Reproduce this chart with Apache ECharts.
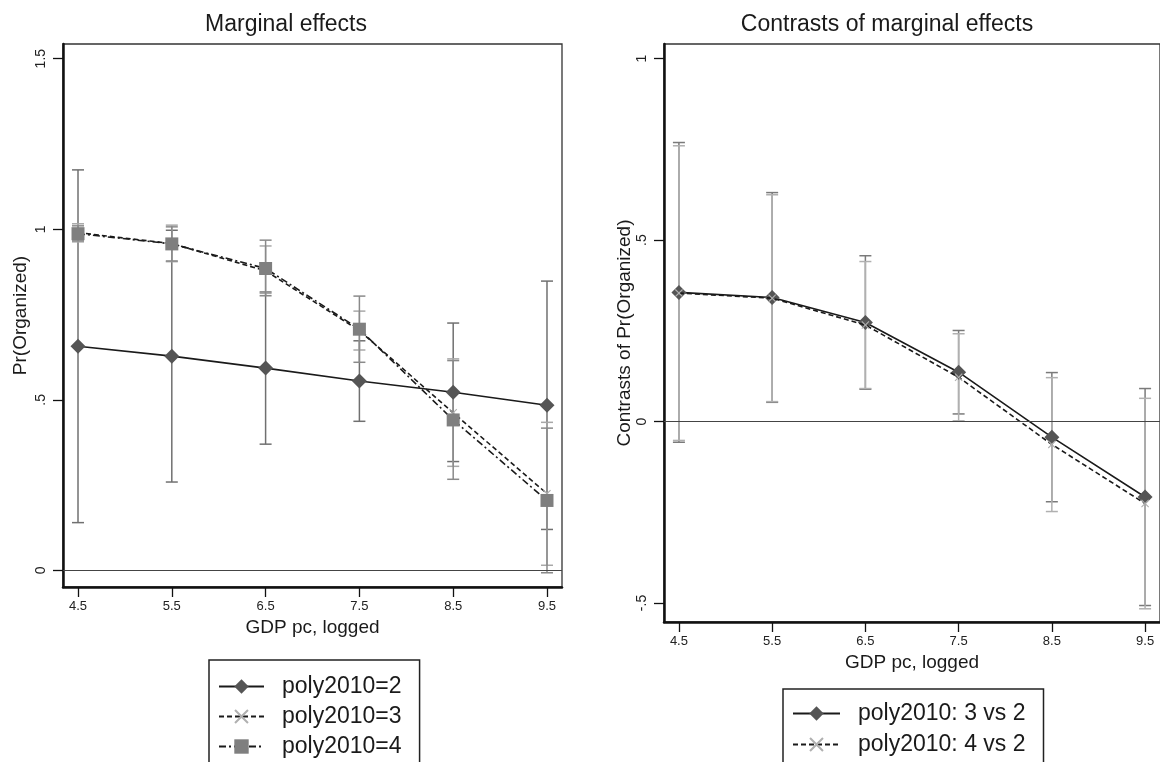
<!DOCTYPE html>
<html>
<head>
<meta charset="utf-8">
<script src="https://cdn.jsdelivr.net/npm/echarts@6/dist/echarts.min.js"></script>
<style>
html,body{margin:0;padding:0;background:#fff;}
#chart{width:1160px;height:762px;}
</style>
</head>
<body>
<div id="chart"></div>
<script>
// ---- data ----
const gdp = [4.5, 5.5, 6.5, 7.5, 8.5, 9.5];
const xTicks = [4.5, 5.5, 6.5, 7.5, 8.5, 9.5];
const xTickLabels = ['4.5', '5.5', '6.5', '7.5', '8.5', '9.5'];
const yTicksL = [0, 0.5, 1, 1.5];
const yTickLabelsL = ['0', '.5', '1', '1.5'];
const yTicksR = [-0.5, 0, 0.5, 1];
const yTickLabelsR = ['-.5', '0', '.5', '1'];

// Left panel: marginal effects
const p2 = [0.657, 0.628, 0.593, 0.555, 0.522, 0.484];
const p2Lo = [0.140, 0.259, 0.370, 0.437, 0.319, 0.120];
const p2Hi = [1.174, 0.997, 0.816, 0.673, 0.725, 0.848];
const p3 = [0.990, 0.958, 0.878, 0.703, 0.462, 0.225];
const p3Lo = [0.963, 0.905, 0.812, 0.646, 0.305, 0.015];
const p3Hi = [1.016, 1.012, 0.951, 0.760, 0.620, 0.434];
const p4 = [0.987, 0.957, 0.885, 0.707, 0.441, 0.205];
const p4Lo = [0.966, 0.907, 0.805, 0.610, 0.267, -0.007];
const p4Hi = [1.010, 1.007, 0.968, 0.804, 0.615, 0.417];

// Right panel: contrasts
const c3 = [0.356, 0.342, 0.273, 0.136, -0.043, -0.208];
const c3Lo = [-0.057, 0.053, 0.089, 0.021, -0.221, -0.507];
const c3Hi = [0.769, 0.631, 0.457, 0.251, 0.135, 0.091];
const c4 = [0.354, 0.340, 0.266, 0.122, -0.063, -0.226];
const c4Lo = [-0.052, 0.055, 0.091, 0.002, -0.248, -0.516];
const c4Hi = [0.760, 0.625, 0.441, 0.242, 0.121, 0.064];

const FONT = "'Liberation Sans', Arial, sans-serif";
const xMark = 'path://M0,1 L1,0 L5,4 L9,0 L10,1 L6,5 L10,9 L9,10 L5,6 L1,10 L0,9 L4,5 Z';

function pts(ys) { return gdp.map((x, i) => [x, ys[i]]); }

function errSeries(name, gi, lo, hi, color) {
  return {
    name: name, type: 'custom', xAxisIndex: gi, yAxisIndex: gi, silent: true, z: 2,
    data: gdp.map((x, i) => [x, lo[i], hi[i]]),
    encode: { x: 0, y: [1, 2] },
    renderItem: function (params, api) {
      const x = api.value(0);
      const a = api.coord([x, api.value(1)]);
      const b = api.coord([x, api.value(2)]);
      const hw = 6;
      const st = { stroke: color, lineWidth: 1.5 };
      return {
        type: 'group', children: [
          { type: 'line', shape: { x1: a[0], y1: a[1], x2: b[0], y2: b[1] }, style: st },
          { type: 'line', shape: { x1: a[0] - hw, y1: a[1], x2: a[0] + hw, y2: a[1] }, style: st },
          { type: 'line', shape: { x1: b[0] - hw, y1: b[1], x2: b[0] + hw, y2: b[1] }, style: st }
        ]
      };
    }
  };
}

function xAxisCfg(gi) {
  return {
    type: 'value', gridIndex: gi, min: 4.34, max: 9.66,
    axisLine: { show: true, onZero: false, lineStyle: { color: '#111', width: 2.5 } },
    axisTick: { show: true, length: 10, customValues: xTicks, lineStyle: { color: '#111', width: 1.3 } },
    axisLabel: { customValues: xTicks, formatter: v => xTickLabels[xTicks.indexOf(v)], fontSize: 13, color: '#222', margin: 13, fontFamily: FONT },
    splitLine: { show: false },
    name: 'GDP pc, logged', nameLocation: 'middle', nameGap: 31,
    nameTextStyle: { fontSize: 19, color: '#1a1a1a', fontFamily: FONT }
  };
}
function yAxisCfg(gi, min, max, ticks, labels, name, gap) {
  return {
    type: 'value', gridIndex: gi, min: min, max: max,
    axisLine: { show: true, onZero: false, lineStyle: { color: '#111', width: 2.5 } },
    axisTick: { show: true, length: 10, customValues: ticks, lineStyle: { color: '#111', width: 1.3 } },
    axisLabel: { customValues: ticks, formatter: v => labels[ticks.indexOf(v)], rotate: 90, fontSize: 14, color: '#222', margin: 15, fontFamily: FONT },
    splitLine: { show: false },
    name: name, nameLocation: 'middle', nameGap: gap,
    nameTextStyle: { fontSize: 19, color: '#1a1a1a', fontFamily: FONT }
  };
}
const zeroLine = {
  silent: true, symbol: ['none', 'none'], label: { show: false },
  lineStyle: { color: '#444', width: 1.2, type: 'solid' },
  data: [{ yAxis: 0 }]
};

const option = {
  backgroundColor: '#fff',
  animation: false,
  title: [
    { text: 'Marginal effects', left: 286, top: 13, padding: 0, textAlign: 'center',
      textStyle: { fontSize: 23, fontWeight: 'normal', color: '#1a1a1a', fontFamily: FONT } },
    { text: 'Contrasts of marginal effects', left: 887, top: 13, padding: 0, textAlign: 'center',
      textStyle: { fontSize: 23, fontWeight: 'normal', color: '#1a1a1a', fontFamily: FONT } }
  ],
  grid: [
    { left: 63, top: 44, width: 499, height: 543, show: true, borderColor: '#333', borderWidth: 1.3, containLabel: false },
    { left: 664, top: 44, width: 499, height: 578, show: true, borderColor: '#333', borderWidth: 1.3, containLabel: false }
  ],
  xAxis: [xAxisCfg(0), xAxisCfg(1)],
  yAxis: [
    yAxisCfg(0, -0.0487, 1.543, yTicksL, yTickLabelsL, 'Pr(Organized)', 33),
    yAxisCfg(1, -0.5524, 1.0405, yTicksR, yTickLabelsR, 'Contrasts of Pr(Organized)', 29)
  ],
  legend: [
    { orient: 'vertical', left: 209, top: 660, height: 300, padding: [15, 18, 40, 9], itemGap: 7,
      itemWidth: 45, itemHeight: 18, borderColor: '#222', borderWidth: 1.5, borderRadius: 0,
      data: ['poly2010=2', 'poly2010=3', 'poly2010=4'],
      textStyle: { fontSize: 23, color: '#1a1a1a', fontFamily: FONT, padding: [0, 0, 0, 13] } },
    { orient: 'vertical', left: 783, top: 689, height: 300, padding: [13, 18, 40, 9], itemGap: 8,
      itemWidth: 47, itemHeight: 18, borderColor: '#222', borderWidth: 1.5, borderRadius: 0,
      data: ['poly2010: 3 vs 2', 'poly2010: 4 vs 2'],
      textStyle: { fontSize: 23, color: '#1a1a1a', fontFamily: FONT, padding: [0, 0, 0, 13] } }
  ],
  series: [
    errSeries('ci2', 0, p2Lo, p2Hi, '#707070'),
    errSeries('ci3', 0, p3Lo, p3Hi, '#a8a8a8'),
    errSeries('ci4', 0, p4Lo, p4Hi, '#8a8a8a'),
    { name: 'poly2010=2', type: 'line', xAxisIndex: 0, yAxisIndex: 0, data: pts(p2), z: 3,
      symbol: 'diamond', symbolSize: 15, itemStyle: { color: '#555' },
      lineStyle: { color: '#1a1a1a', width: 1.6, type: 'solid' }, markLine: zeroLine },
    { name: 'poly2010=3', type: 'line', xAxisIndex: 0, yAxisIndex: 0, data: pts(p3), z: 4,
      symbol: xMark, symbolSize: 8, itemStyle: { color: '#b0b0b0' },
      lineStyle: { color: '#1a1a1a', width: 1.6, type: [5, 3] } },
    { name: 'poly2010=4', type: 'line', xAxisIndex: 0, yAxisIndex: 0, data: pts(p4), z: 5,
      symbol: 'rect', symbolSize: 13, itemStyle: { color: '#7f7f7f' },
      lineStyle: { color: '#1a1a1a', width: 1.6, type: [7, 3, 2, 3] } },

    errSeries('cc3', 1, c3Lo, c3Hi, '#7a7a7a'),
    errSeries('cc4', 1, c4Lo, c4Hi, '#b0b0b0'),
    { name: 'poly2010: 3 vs 2', type: 'line', xAxisIndex: 1, yAxisIndex: 1, data: pts(c3), z: 3,
      symbol: 'diamond', symbolSize: 15, itemStyle: { color: '#555' },
      lineStyle: { color: '#1a1a1a', width: 1.6, type: 'solid' }, markLine: zeroLine },
    { name: 'poly2010: 4 vs 2', type: 'line', xAxisIndex: 1, yAxisIndex: 1, data: pts(c4), z: 4,
      symbol: xMark, symbolSize: 8, itemStyle: { color: '#b0b0b0' },
      lineStyle: { color: '#1a1a1a', width: 1.6, type: [5, 3] } }
  ]
};

const chart = echarts.init(document.getElementById('chart'), null, { renderer: 'canvas', width: 1160, height: 762 });
chart.setOption(option);
</script>
</body>
</html>
